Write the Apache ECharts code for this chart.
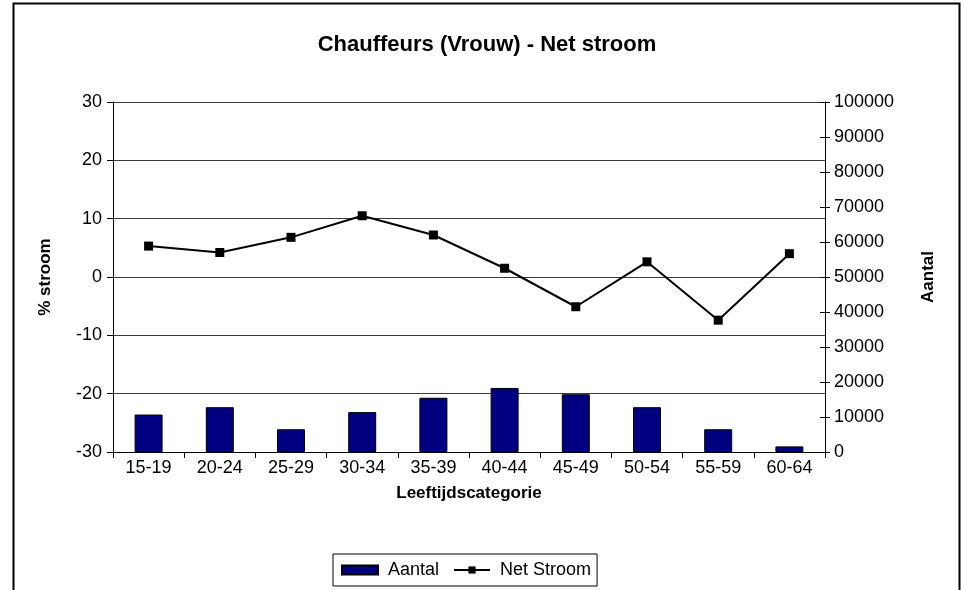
<!DOCTYPE html>
<html>
<head>
<meta charset="utf-8">
<script src="https://cdn.jsdelivr.net/npm/echarts@6/dist/echarts.min.js"></script>
<style>
  html, body { margin: 0; padding: 0; background: #fff; }
  #chart { width: 964px; height: 590px; }
</style>
</head>
<body>
<div id="chart"></div>
<script>
// Age groups on the category axis
var categories = ['15-19', '20-24', '25-29', '30-34', '35-39', '40-44', '45-49', '50-54', '55-59', '60-64'];
// Number of female drivers per age group (right axis)
var aantal = [10700, 12800, 6500, 11400, 15500, 18300, 16500, 12800, 6500, 1600];
// Net flow in percent (left axis)
var netStroom = [5.3, 4.2, 6.8, 10.5, 7.2, 1.5, -5.1, 2.6, -7.4, 4.0];
// Axis ranges
var pctRange = [-30, 30, 10];
var countRange = [0, 100000, 10000];

var FONT = 'Arial, "Liberation Sans", sans-serif';
var chart = echarts.init(document.getElementById('chart'), null, { renderer: 'canvas' });

function plain(v) { return String(v); }

chart.setOption({
  animation: false,
  backgroundColor: '#fff',
  textStyle: { fontFamily: FONT, color: '#000' },
  title: {
    text: 'Chauffeurs (Vrouw) - Net stroom',
    left: 482,
    textAlign: 'center',
    top: 29,
    textStyle: { fontFamily: FONT, fontSize: 22, fontWeight: 'bold', color: '#000' }
  },
  graphic: [{
    type: 'rect',
    silent: true,
    shape: { x: 13.5, y: 3.5, width: 946, height: 640 },
    style: { fill: null, stroke: '#000', lineWidth: 2 }
  }],
  legend: {
    left: 333,
    top: 554,
    padding: [7, 6, 7, 8],
    itemGap: 14,
    itemWidth: 36,
    itemHeight: 9,
    borderColor: '#000',
    borderWidth: 1,
    textStyle: { fontFamily: FONT, fontSize: 18, color: '#000', padding: [0, 0, 0, 5] },
    data: [
      { name: 'Aantal', icon: 'rect' },
      { name: 'Net Stroom' }
    ]
  },
  grid: { left: 113, right: 139, top: 102, bottom: 138, containLabel: false },
  xAxis: {
    type: 'category',
    data: categories,
    name: 'Leeftijdscategorie',
    nameLocation: 'middle',
    nameGap: 33,
    nameTextStyle: { fontFamily: FONT, fontSize: 17, fontWeight: 'bold', color: '#000' },
    axisLine: { onZero: false, lineStyle: { color: '#000', width: 1 } },
    axisTick: { show: true, alignWithLabel: false, length: 6, lineStyle: { color: '#000' } },
    axisLabel: { fontFamily: FONT, fontSize: 18, color: '#000', margin: 7 },
    splitLine: { show: false }
  },
  yAxis: [{
    type: 'value',
    position: 'left',
    min: pctRange[0], max: pctRange[1], interval: pctRange[2],
    name: '% stroom',
    nameLocation: 'middle',
    nameRotate: 90,
    nameGap: 59,
    nameTextStyle: { fontFamily: FONT, fontSize: 17, fontWeight: 'bold', color: '#000' },
    axisLine: { show: true, lineStyle: { color: '#000', width: 1 } },
    axisTick: { show: true, length: 6, lineStyle: { color: '#000' } },
    axisLabel: { fontFamily: FONT, fontSize: 18, color: '#000', margin: 11 },
    splitLine: { show: true, lineStyle: { color: '#3a3a3a', width: 1 } }
  }, {
    type: 'value',
    position: 'right',
    min: countRange[0], max: countRange[1], interval: countRange[2],
    name: 'Aantal',
    nameLocation: 'middle',
    nameRotate: 90,
    nameGap: 95,
    nameTextStyle: { fontFamily: FONT, fontSize: 17, fontWeight: 'bold', color: '#000' },
    axisLine: { show: true, lineStyle: { color: '#000', width: 1 } },
    axisTick: { show: true, length: 5, lineStyle: { color: '#000' } },
    axisLabel: { fontFamily: FONT, fontSize: 18, color: '#000', margin: 9, formatter: plain },
    splitLine: { show: false }
  }, {
    // inner half of the crossing ticks on the right axis
    type: 'value',
    position: 'right',
    min: countRange[0], max: countRange[1], interval: countRange[2],
    axisLine: { show: false },
    axisTick: { show: true, inside: true, length: 5, lineStyle: { color: '#000' } },
    axisLabel: { show: false },
    splitLine: { show: false }
  }],
  series: [{
    name: 'Aantal',
    type: 'bar',
    yAxisIndex: 1,
    data: aantal,
    barWidth: 28,
    itemStyle: { color: '#000080', borderColor: '#000', borderWidth: 1 },
    z: 2
  }, {
    name: 'Net Stroom',
    type: 'line',
    yAxisIndex: 0,
    data: netStroom,
    symbol: 'rect',
    symbolSize: 9,
    lineStyle: { color: '#000', width: 2 },
    itemStyle: { color: '#000' },
    z: 3
  }]
});
</script>
</body>
</html>
